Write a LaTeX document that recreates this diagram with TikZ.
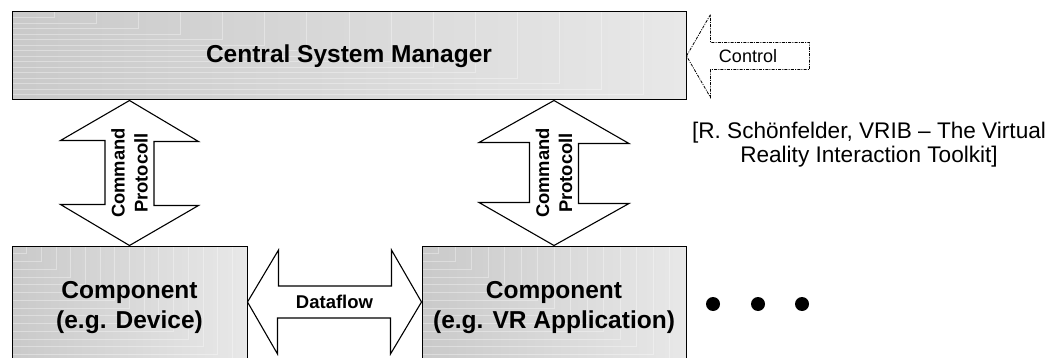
\documentclass[tikz,border=0pt]{standalone}
\usepackage{fontspec}
\setmainfont{Liberation Sans}
\usetikzlibrary{calc}

\tikzset{
  panel/.style={draw=black, line width=1pt, left color=black!21, right color=black!9,
    inner sep=0pt, align=center, font=\fontsize{24.5}{30}\selectfont\bfseries,
    path picture={
      \foreach \i in {1,...,16}
        \draw[grain] ($(path picture bounding box.north west)!\i/16!(path picture bounding box.south west)$)
          -| ($(path picture bounding box.north west)!\i/16!(path picture bounding box.north east)$);
    }},
  grain/.style={white, opacity=0.35, line width=0.8pt},
  blockarrow/.style={draw=black, line width=1.1pt, line join=miter},
  ctrlarrow/.style={draw=black, line width=0.8pt, dash pattern=on 3pt off 1.2pt on 1pt off 1.2pt},
  cmdlabel/.style={rotate=90, align=center, inner sep=0pt, font=\fontsize{18.4}{23}\selectfont\bfseries},
  flowlabel/.style={inner sep=0pt, font=\fontsize{18.5}{22}\selectfont\bfseries},
  ctrllabel/.style={inner sep=0pt, font=\fontsize{18}{22}\selectfont},
  cite/.style={align=center, inner sep=0pt, font=\fontsize{22.6}{24}\selectfont},
  dot/.style={circle, fill=black, inner sep=0pt, minimum size=14pt},
}

\begin{document}
\begin{tikzpicture}[x=1pt, y=-1pt]
  \useasboundingbox (0,0) rectangle (1059,358);

  % Boxes
  \node[panel, minimum width=674pt, minimum height=88pt] (csm) at (349,56) {Central System Manager};
  \node[panel, minimum width=235pt, minimum height=124pt] (dev) at (129.5,308) {Component\\(e.g. Device)};
  \node[panel, minimum width=264pt, minimum height=124pt] (app) at (554,308) {Component\\(e.g. VR Application)};

  % Command protocol arrows
  \coordinate (cmdLtop) at (csm.south -| dev.north);
  \coordinate (cmdRtop) at (csm.south -| app.north);
  \draw[blockarrow] (cmdLtop) -- ++(69,41) -- ++(-44.5,0) -- ++(0,64) -- ++(44.5,0) -- (dev.north)
    -- ++(-69,-41) -- ++(44.5,0) -- ++(0,-64) -- ++(-44.5,0) -- cycle;
  \draw[blockarrow] (cmdRtop) -- ++(75,43) -- ++(-50.5,0) -- ++(0,60) -- ++(50.5,0) -- (app.north)
    -- ++(-75,-43) -- ++(50.5,0) -- ++(0,-60) -- ++(-50.5,0) -- cycle;
  \node[cmdlabel] (cmdL) at ($(cmdLtop)!0.5!(dev.north)$) {Command\\Protocoll};
  \node[cmdlabel] (cmdR) at ($(cmdRtop)!0.5!(app.north)$) {Command\\Protocoll};

  % Dataflow arrow
  \node[flowlabel] (flow) at (334.5,302) {Dataflow};
  \draw[blockarrow] (dev.east |- flow) -- ++(31,-52) -- ++(0,36) -- ++(113,0) -- ++(0,-36) -- (app.west |- flow)
    -- ++(-31,52) -- ++(0,-36) -- ++(-113,0) -- ++(0,36) -- cycle;

  % Control arrow
  \node[ctrllabel] (ctrl) at (748,56) {Control};
  \draw[ctrlarrow] (csm.east) -- ++(24,-41.5) -- ++(0,28) -- ++(99,0) -- ++(0,27) -- ++(-99,0) -- ++(0,28) -- cycle;

  % Reference
  \node[cite] (ref) at (869,145) {[R. Schönfelder, VRIB – The Virtual\\Reality Interaction Toolkit]};

  % More components
  \foreach \x [count=\i] in {713,758,802}
    \node[dot] (dot\i) at (\x,304) {};
\end{tikzpicture}
\end{document}
